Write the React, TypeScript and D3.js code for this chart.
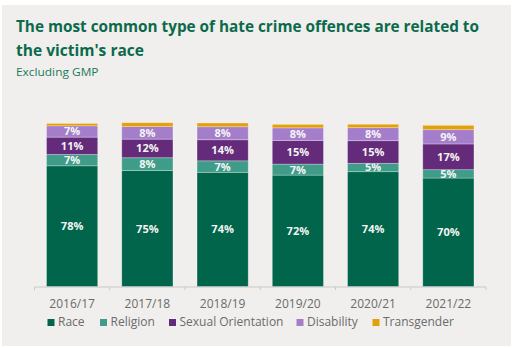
import React from "react";
import * as d3 from "d3";

const categories = ["2016/17", "2017/18", "2018/19", "2019/20", "2020/21", "2021/22"];
const race = [78, 75, 73.8, 72, 74.2, 70.1];
const religion = [7.3, 8.2, 7.4, 7.1, 5.4, 5.4];
const sexualOrientation = [11.2, 12.0, 13.6, 15.3, 14.6, 16.6];
const disability = [7.3, 8.1, 8.4, 8.1, 8.4, 9.2];
const transgender = [1.5, 2.5, 2.4, 2.2, 2.2, 2.8];
const seriesNames = ["Race", "Religion", "Sexual Orientation", "Disability", "Transgender"];
const seriesColors = ["#00654a", "#3f9c88", "#642b7b", "#a57ecb", "#e3a008"];
const labelled = [true, true, true, true, false];

const W = 515;
const H = 348;
const FONT = "'Open Sans', 'Noto Sans', sans-serif";

export default function App() {
  const seriesValues = [race, religion, sexualOrientation, disability, transgender];
  const rows = categories.map((c, i) => {
    const r: any = { cat: c };
    seriesNames.forEach((s, k) => (r[s] = seriesValues[k][i]));
    return r;
  });
  const stack = d3.stack<any>().keys(seriesNames)(rows);

  const x = d3.scaleBand<string>().domain(categories).range([34.5, 486]).paddingInner(0.32).paddingOuter(0.16);
  const y = d3.scaleLinear().domain([0, 100]).range([286.7, 131.7]);

  const legendX = [47.5, 100, 169, 296.5, 372.5];

  return (
    <svg width={W} height={H} style={{ position: "absolute", left: 0, top: 0 }} fontFamily={FONT}>
      <rect x={0} y={0} width={W} height={H} fill="#ffffff" />
      <rect x={2} y={5} width={509} height={341} fill="#f0efed" />
      <text x={16} y={32} fontSize={16.5} fontWeight={700} fill="#0b6a4c" textLength={463} lengthAdjust="spacingAndGlyphs">
        The most common type of hate crime offences are related to
      </text>
      <text x={16} y={55.5} fontSize={16.5} fontWeight={700} fill="#0b6a4c" textLength={128} lengthAdjust="spacingAndGlyphs">
        the victim's race
      </text>
      <text x={16} y={76} fontSize={11} fill="#1b7a5a" textLength={82.5} lengthAdjust="spacingAndGlyphs">
        Excluding GMP
      </text>

      {stack.map((layer, k) => (
        <g key={layer.key}>
          {layer.map((d, i) => {
            const x0 = x(categories[i])!;
            const y0 = y(d[1]);
            const h = y(d[0]) - y(d[1]);
            return (
              <g key={i}>
                <rect x={x0} y={y0} width={x.bandwidth()} height={h} fill={seriesColors[k]} stroke="#ffffff" strokeOpacity={0.35} strokeWidth={0.8} />
                {labelled[k] && (
                  <text
                    x={x0 + x.bandwidth() / 2}
                    y={y0 + h / 2}
                    dy="0.36em"
                    textAnchor="middle"
                    fontSize={11}
                    fontWeight={700}
                    fill="#f4f4f4"
                  >
                    {Math.round(d[1] - d[0])}%
                  </text>
                )}
              </g>
            );
          })}
        </g>
      ))}

      <line x1={34.5} x2={486} y1={287} y2={287} stroke="#c9c9c9" strokeWidth={1} />
      {d3.range(categories.length + 1).map((i) => {
        const tx = 34.5 + i * x.step();
        return <line key={i} x1={tx} x2={tx} y1={287} y2={290} stroke="#c9c9c9" strokeWidth={1} />;
      })}
      {categories.map((c) => (
        <text key={c} x={x(c)! + x.bandwidth() / 2} y={308} textAnchor="middle" fontSize={12} fill="#6b6b6b">
          {c}
        </text>
      ))}

      {seriesNames.map((s, k) => (
        <g key={s}>
          <rect x={legendX[k]} y={319} width={7} height={7} fill={seriesColors[k]} />
          <text x={legendX[k] + 10.5} y={326} fontSize={12} fill="#6b6b6b">
            {s}
          </text>
        </g>
      ))}
    </svg>
  );
}
